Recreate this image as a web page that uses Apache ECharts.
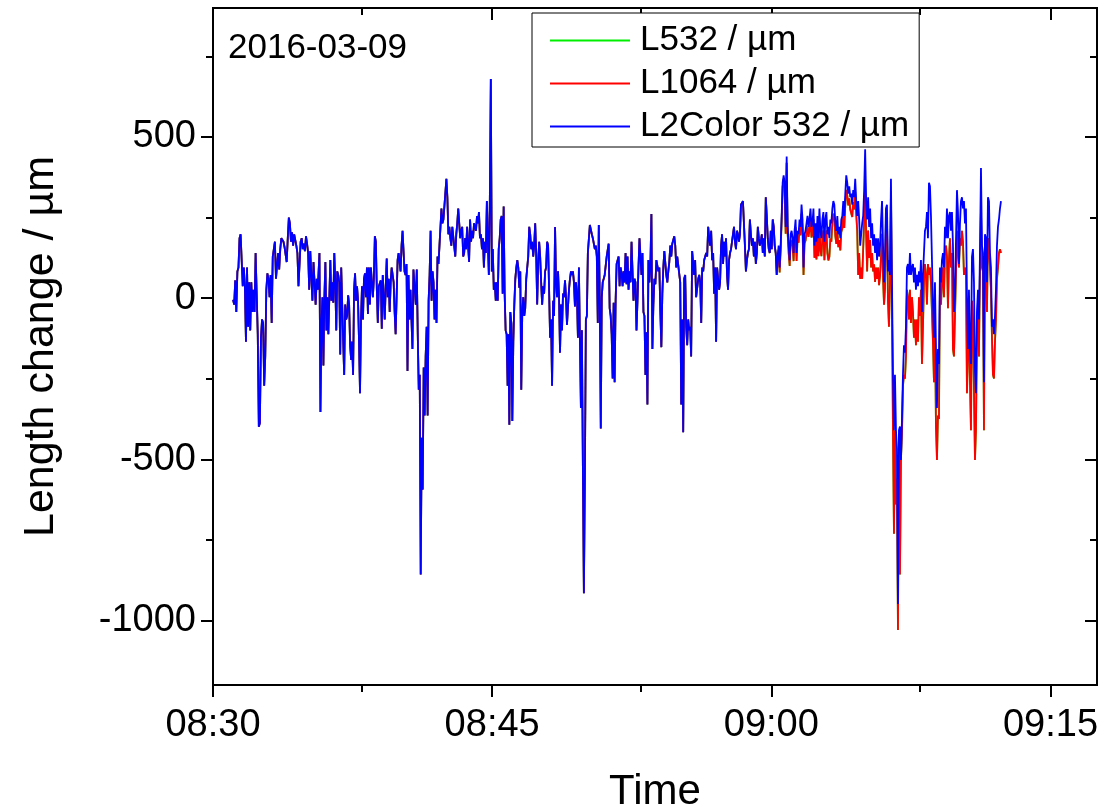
<!DOCTYPE html>
<html>
<head>
<meta charset="utf-8">
<script src="https://cdn.jsdelivr.net/npm/echarts@6/dist/echarts.min.js"></script>
<style>
  html, body { margin: 0; padding: 0; background: #fff; }
  #chart { width: 1106px; height: 810px; }
</style>
</head>
<body>
<div id="chart"></div>
<script>
// ---- data (minutes after 08:30, length change in µm) ----
const dateLabel = '2016-03-09'
const seriesNames = ['L532 / µm', 'L1064 / µm', 'L2Color 532 / µm']
const xMajorTicks = [0, 15, 30, 45]
const xMinorTicks = [8, 23, 38]
const yMajorTicks = [-1000, -500, 0, 500]
const yMinorTicks = [-750, -250, 250, 750]

// stretches where all three traces lie on top of each other (08:31 - 09:00)
const commonStart = [1.08, 5.72, 10.79, 15.87, 20.94, 26.02]
const commonEnd = [5.63, 10.77, 15.83, 20.89, 25.96, 30.29]
const common1 = [-5, -20, 55, -43, 83, 95, 186, 198, 118, 37, 95, 37, -135, 95, -89, 49, -100, 49, -43, 26,
  -43, 140, 135, -112, -399, -387, -123, -66, -77, -272, -181, 26, 77, 60, 3, 72, -77, 129, 129, 175,
  60, 60, 140, 89, 152, 186, 192, 175, 158, 163, 112, 186, 250, 232, 175, 204, 163, 198, 192, 163,
  140, 37, 106, 175, 186, 152, 169, 146, 192, 169, 140, 26, 146, 140, -8, 112, 49, -20, 60, 26]
const common2 = [140, -353, -89, 3, -209, 3, 112, -100, 3, -112, 3, 118, -8, 49, -14, 140, 49, -100, 83, 72,
  49, -175, 95, 100, -135, -238, -20, -66, -55, 9, -20, -146, -192, -135, -238, 26, 77, -8, 37, -8,
  -135, -295, -66, 37, -66, 60, 77, 3, 95, -49, 95, -20, 95, 49, 3, 60, 192, 175, 26, -77,
  37, 43, 55, -95, 72, 77, -66, 37, 123, 3, 60, -43, 49, 95, 100, 49, -43, -112, 3, 118,
  140, 146, 83, 163, 209, 204, 83, 72, 106, -226, 72, -66, 26, 32, -158, 89]
const common3 = [95, 83, -20, 89, -112, -284, -238, -857, -433, -594, -215, -364, -181, -89, -364, -8, 72, 209, -8, 83,
  49, -66, 26, -77, 129, 106, 163, 169, 278, 232, 244, 238, 244, 370, 313, 198, 221, 186, 163, 221,
  227, 221, 129, 198, 232, 278, 232, 186, 209, 221, 129, 140, 186, 152, 221, 163, 112, 244, 175, 209,
  186, 232, 238, 209, 255, 232, 267, 186, 198, 152, 186, 95, 175, 140, 301, 175, 72, 301, 680, 83,
  152, 26, 49, -8, 49, -8, 152, 186, 244, 255, 14, 284, 14, -100, -112, -272]
const common4 = [-112, -393, -43, -77, -381, -135, -20, 60, 95, 118, 95, 32, 83, -284, -43, 3, -55, -31, 60, 95,
  129, 221, 198, 152, 175, 129, 163, 232, 140, -20, 106, 175, 129, 49, -20, 37, 14, 83, 95, 175,
  163, 26, -123, -66, -272, -8, -55, 221, 49, 3, 83, 3, -169, -20, -100, 14, 3, 55, 3, -83,
  -89, 26, 60, 83, 72, 83, 49, -26, 49, 14, -123, 95, -123, -341, -100, -525, -915, -559, -66, -55,
  140, 140, 227, 232, 198, 186, 192, 152, 163, 129, -77, 227, -8, -404, 3]
const common5 = [49, 60, 72, 72, 129, 135, 169, -31, -55, -112, -249, -14, -261, -8, 106, 112, 129, 37, 95, 77,
  37, 83, 49, 140, 43, 129, 26, 83, 49, 175, 83, -8, 60, 49, -100, -8, 95, 186, 181, 72,
  140, -43, -55, -238, -106, -330, 118, 49, 106, 261, -158, -20, 60, 43, 118, 123, 83, 95, -43, -152,
  14, 95, 146, 140, 72, 49, 83, 112, 163, 129, 169, 175, 192, 163, 95, 129, 135, 129, 49, -330,
  -66, -416, 60, 72, -89, -146, -66, -100, -89, -181, 146, 140, 72, 118, 3]
const common6 = [3, 60, 72, 49, -77, 95, 83, 118, 112, 140, 129, 221, 186, 163, 209, 118, 140, 14, 95, -135,
  95, 95, 26, 49, 163, 198, 106, 175, 129, 186, 72, 26, 118, 140, 152, 175, 169, 221, 175, 152,
  209, 198, 175, 198, 290, 284, 301, 232, 163, 83, 118, 140, 152, 244, 198, 163, 186, 129, 175, 106,
  140, 221, 186, 163, 175, 198, 140, 186, 129, 313, 255, 186, 152, 140, 209, 152, 244, 221, 163, 140, 72]

// stretches after 09:00 where L1064 (and L532 under it) runs below L2Color
const tailStart = [30.34, 31.09, 36.16]
const tailEnd = [31.04, 36.11, 42.34]
const blueTail1 = [129, 163, 95, 163, 255, 358, 381, 358, 221, 439, 221, 163, 118, 198]
const redTail1 = [115, 150, 80, 150, 240, 345, 370, 340, 200, 420, 200, 140, 100, 180]
const blueTail2 = [209, 186, 140, 209, 244, 140, 209, 198, 244, 221, 290, 244, 95, 198, 209, 232, 255, 221, 244, 278,
  221, 232, 278, 163, 232, 175, 255, 186, 278, 209, 186, 244, 267, 175, 244, 267, 198, 221, 186, 244,
  232, 278, 301, 290, 232, 209, 255, 198, 221, 186, 244, 255, 301, 255, 324, 381, 358, 324, 347, 313,
  324, 290, 335, 313, 370, 301, 255, 301, 244, 163, 198, 232, 255, 335, 462, 301, 244, 313, 221, 278,
  186, 232, 163, 198, 140, 186, 118, 186, 129, 163, 244, 301, 163, 49, 129]
const redTail2 = [185, 160, 115, 185, 220, 115, 185, 172, 218, 195, 262, 215, 72, 170, 178, 200, 222, 190, 212, 245,
  188, 198, 245, 125, 180, 120, 200, 130, 222, 150, 130, 188, 210, 118, 185, 210, 140, 117, 128, 185,
  175, 235, 262, 250, 192, 168, 215, 158, 180, 148, 205, 215, 262, 218, 288, 336, 320, 288, 310, 275,
  278, 252, 298, 275, 330, 262, 210, 72, 140, 60, 95, 60, 150, 240, 358, 200, 83, 210, 125, 180,
  95, 140, 83, 105, 50, 95, 60, 95, 40, 70, 129, 200, 60, -20, 30]
const blueTail3 = [278, 290, 83, 118, 72, 370, 49, -238, -410, -238, -410, -467, -949, -410, -398, -502, -376, -238, -146, -169,
  -89, 95, 106, 72, 140, 72, 95, 106, 49, 95, 26, 72, 37, 83, 49, 118, -43, 72, 140, 209,
  221, 267, 186, 358, 347, 255, 118, -20, -123, 49, -158, -341, -158, -204, 95, 49, 118, 140, 95, 221,
  186, 278, 186, 255, 267, 209, 267, 163, -43, 3, 175, 335, 267, 106, 232, 301, 313, 278, 301, 232,
  278, 3, -158, 26, -158, -204, 129, 152, 49, -226, -295, -43, 26, -66, 140, 404, 163, 140, -261, 198,
  186, 49, 313, 301, 140, 95, -89, -66, -112, -55, 26, 163, 221, 244, 278, 301]
const redTail3 = [250, 262, -8, -89, 40, 330, -8, -410, -731, -410, -640, -560, -1029, -420, -857, -502, -420, -272, -238, -250,
  -181, 26, 3, -66, 26, -77, 3, -43, -123, -66, -146, -66, -135, 3, -55, 26, -204, -89, 49, 106,
  72, -20, 106, 72, 95, 49, 49, -135, -261, -66, -399, -502, -364, -375, 49, -20, 49, 95, 3, 140,
  163, 129, -31, 118, 186, 95, 140, -158, -181, -55, 72, 209, 140, 95, 186, 163, 209, 175, 72, 95,
  72, -295, -169, -66, -261, -410, -8, -66, -284, -502, -410, -100, -8, -181, 95, 278, 95, 83, -410, 186,
  118, -43, 186, 163, 95, 26, -123, -238, -249, -135, -66, 60, 95, 140, 152, 140]

const commonParts = [common1, common2, common3, common4, common5, common6]
const blueParts = [blueTail1, blueTail2, blueTail3]
const redParts = [redTail1, redTail2, redTail3]

function toPoints (starts, ends, parts) {
  let pts = []
  parts.forEach(function (arr, k) {
    const step = (ends[k] - starts[k]) / (arr.length - 1)
    arr.forEach(function (v, i) {
      pts.push([starts[k] + i * step, v])
    })
  })
  return pts
}

const commonPts = toPoints(commonStart, commonEnd, commonParts)
const l2colorData = commonPts.concat(toPoints(tailStart, tailEnd, blueParts))
const l1064Data = commonPts.concat(toPoints(tailStart, tailEnd, redParts))
// L532 sits under L1064 everywhere in the picture
const l532Data = l1064Data

const font = 'Liberation Sans, Arial, sans-serif'

function timeLabel (v) {
  const total = 8 * 60 + 30 + Math.round(v)
  const h = Math.floor(total / 60)
  const m = total % 60
  return (h < 10 ? '0' : '') + h + ':' + (m < 10 ? '0' : '') + m
}

function xAxisOf (pos, ticks, len, inside, withLabel) {
  return {
    type: 'value',
    position: pos,
    min: 0,
    max: 47.5,
    name: withLabel ? 'Time' : '',
    nameLocation: 'middle',
    nameGap: 86,
    nameTextStyle: { fontFamily: font, fontSize: 42, color: '#000' },
    axisLine: { show: true, onZero: false, lineStyle: { color: '#000', width: 2 } },
    axisTick: { show: true, inside: inside, length: len, customValues: ticks, lineStyle: { color: '#000', width: 2 } },
    axisLabel: {
      show: withLabel,
      customValues: ticks,
      margin: 22,
      fontFamily: font,
      fontSize: 38,
      color: '#000',
      formatter: timeLabel
    },
    splitLine: { show: false }
  }
}

function yAxisOf (pos, ticks, len, inside, withLabel) {
  return {
    type: 'value',
    position: pos,
    min: -1200,
    max: 900,
    name: withLabel ? 'Length change / µm' : '',
    nameLocation: 'middle',
    nameGap: 150,
    nameTextStyle: { fontFamily: font, fontSize: 43, color: '#000' },
    axisLine: { show: true, onZero: false, lineStyle: { color: '#000', width: 2 } },
    axisTick: { show: true, inside: inside, length: len, customValues: ticks, lineStyle: { color: '#000', width: 2 } },
    axisLabel: {
      show: withLabel,
      customValues: ticks,
      margin: 17,
      fontFamily: font,
      fontSize: 38,
      color: '#000',
      formatter: function (v) { return String(v) }
    },
    splitLine: { show: false }
  }
}

const chart = echarts.init(document.getElementById('chart'))
const option = {
  animation: false,
  backgroundColor: '#fff',
  grid: { left: 213, right: 9, top: 8, bottom: 125, containLabel: false, outerBoundsMode: 'none' },
  xAxis: [
    xAxisOf('bottom', xMajorTicks, 12, false, true),
    xAxisOf('bottom', xMinorTicks, 7, false, false),
    xAxisOf('top', xMajorTicks, 12, true, false),
    xAxisOf('top', xMinorTicks, 7, true, false)
  ],
  yAxis: [
    yAxisOf('left', yMajorTicks, 12, false, true),
    yAxisOf('left', yMinorTicks, 7, false, false),
    yAxisOf('right', yMajorTicks, 12, true, false),
    yAxisOf('right', yMinorTicks, 7, true, false)
  ],
  legend: {
    orient: 'vertical',
    left: 532,
    top: 13,
    data: seriesNames,
    icon: 'rect',
    itemWidth: 80,
    itemHeight: 2,
    itemGap: 8,
    padding: [10, 10, 3, 18],
    borderColor: '#000',
    borderWidth: 1,
    backgroundColor: '#fff',
    textStyle: { fontFamily: font, fontSize: 35, lineHeight: 35, color: '#000', padding: [0, 0, 0, 5] }
  },
  graphic: [{
    type: 'text',
    left: 228,
    top: 31,
    style: { text: dateLabel, fontFamily: font, fontSize: 35, fill: '#000' }
  }],
  series: [
    {
      name: seriesNames[0],
      type: 'line',
      symbol: 'none',
      color: '#00ee00',
      lineStyle: { width: 1.8, color: '#00ee00' },
      data: l532Data
    },
    {
      name: seriesNames[1],
      type: 'line',
      symbol: 'none',
      color: '#ff0000',
      lineStyle: { width: 1.8, color: '#ff0000' },
      data: l1064Data
    },
    {
      name: seriesNames[2],
      type: 'line',
      symbol: 'none',
      color: '#0000ff',
      lineStyle: { width: 1.8, color: '#0000ff' },
      data: l2colorData
    }
  ]
}
chart.setOption(option)
window.addEventListener('resize', function () {
  chart.resize()
})
</script>
</body>
</html>
